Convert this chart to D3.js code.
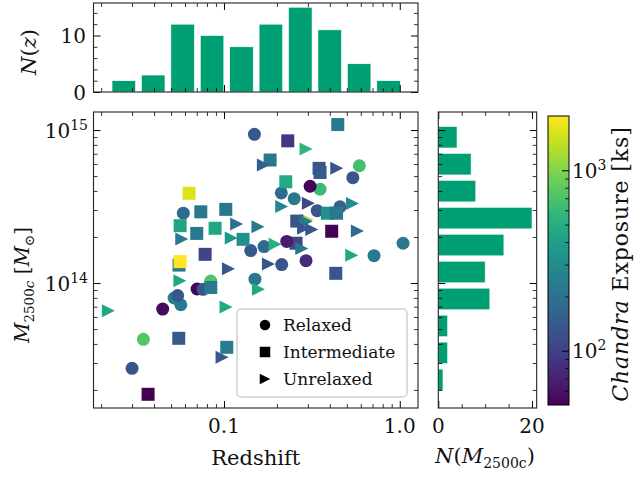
<!DOCTYPE html>
<html>
<head>
<meta charset="utf-8">
<script src="https://cdn.jsdelivr.net/npm/d3@7/dist/d3.min.js"></script>
<style>
  html, body { margin: 0; padding: 0; background: #fff; }
  svg { display: block; }
  text { font-family: "DejaVu Serif", "Liberation Serif", serif; fill: #111; }
</style>
</head>
<body>
<svg id="fig" width="638" height="477"></svg>
<script>
// Cluster sample, listed in drawing order.
// Redshift
const clusterZ = [
  0.297, 0.302, 0.183, 0.2594, 0.257,
  0.149, 0.589, 0.541, 0.352, 0.309, 0.212, 0.251, 0.0587, 0.339, 0.457,
  0.142, 0.169, 0.2275, 1.044, 0.293, 0.714, 0.213, 0.150, 0.0841, 0.0703,
  0.0760, 0.0520, 0.0568, 0.0545, 0.0448, 0.0348, 0.0300,
  0.293, 0.1675, 0.438, 0.213, 0.538, 0.118, 0.156, 0.293, 0.2836, 0.3158,
  0.574, 0.0575, 0.110, 0.1953, 0.277, 0.533, 0.106, 0.179, 0.157, 0.0561,
  0.1028, 0.0220, 0.0975,
  0.444, 0.2306, 0.3475, 0.352, 0.2247, 0.0633, 0.0738, 0.1024, 0.0563, 0.089,
  0.070, 0.1284, 0.3874, 0.437, 0.410, 0.0781, 0.0555, 0.0563, 0.0841, 0.4325,
  0.0553, 0.1037, 0.0370
];
// M2500c in solar masses
const clusterMass = [
  2.58e14, 3.32e14, 6.37e14, 2.54e14, 1.82e14,
  9.37e14, 5.84e14, 4.88e14, 4.10e14, 4.29e14, 3.88e14, 3.56e14, 2.86e14, 2.97e14, 3.15e14,
  1.63e14, 1.73e14, 1.87e14, 1.82e14, 1.40e14, 1.51e14, 1.32e14, 1.06e14, 1.03e14, 0.914e14,
  0.910e14, 0.798e14, 0.721e14, 0.829e14, 0.676e14, 0.4285e14, 0.277e14,
  7.51e14, 5.90e14, 5.62e14, 3.16e14, 3.31e14, 2.43e14, 2.33e14, 2.525e14, 2.28e14, 2.24e14,
  2.19e14, 1.94e14, 1.97e14, 1.79e14, 1.68e14, 1.52e14, 1.24e14, 1.33e14, 0.910e14, 1.035e14,
  0.697e14, 0.659e14, 0.327e14,
  10.86e14, 8.50e14, 5.62e14, 5.28e14, 4.59e14, 3.86e14, 2.92e14, 3.03e14, 2.37e14, 2.28e14,
  2.11e14, 1.93e14, 2.86e14, 2.86e14, 2.18e14, 1.54e14, 1.31e14, 1.38e14, 0.935e14, 1.157e14,
  0.435e14, 0.380e14, 0.1873e14
];
// Chandra exposure time in ks
const clusterExposure = [
  1200, 105, 220, 135, 110,
  135, 660, 135, 620, 52, 180, 220, 180, 135, 160,
  140, 180, 65, 220, 78, 220, 135, 220, 735, 52,
  135, 260, 220, 135, 55, 735, 135,
  550, 150, 135, 280, 300, 190, 220, 220, 135, 135,
  180, 220, 360, 520, 220, 450, 135, 135, 450, 450,
  460, 450, 140,
  220, 90, 135, 140, 460, 1650, 220, 220, 440, 440,
  220, 316, 316, 220, 50, 105, 220, 2000, 220, 135,
  140, 230, 50
];
// Dynamical state: R relaxed, I intermediate, U unrelaxed
const clusterState = [
  "U", "U", "I", "I", "I",
  "R", "R", "R", "R", "R", "R", "R", "R", "R", "R",
  "R", "R", "R", "R", "R", "R", "R", "R", "R", "R",
  "R", "R", "R", "R", "R", "R", "R",
  "U", "U", "U", "U", "U", "U", "U", "U", "U", "U",
  "U", "U", "U", "U", "U", "U", "U", "U", "U", "U",
  "U", "U", "U",
  "I", "I", "I", "I", "I", "I", "I", "I", "I", "I",
  "I", "I", "I", "I", "I", "I", "I", "I", "I", "I",
  "I", "I", "I"
];

// Marginal histograms (10 log-spaced bins each)
const redshiftCounts = [2, 3, 12, 10, 8, 12, 15, 11, 5, 2];
const redshiftBinRange = [0.0222, 1.047];
const massCounts = [1, 2, 2, 11, 10, 14, 20, 8, 7, 4];   // low mass -> high mass
const massBinRange = [1.9e13, 1.1e15];

// Legend and tick values
const stateCodes = ["R", "I", "U"];
const stateNames = ["Relaxed", "Intermediate", "Unrelaxed"];
const redshiftTicks = [0.1, 1.0];
const massTicks = [1e14, 1e15];
const exposureTicks = [100, 1000];
const zCountTicks = [0, 10];
const massCountTicks = [0, 20];

// ---------------------------------------------------------------- layout
const svg = d3.select("#fig");
const frame = { l: 93.5, r: 418, t: 112, b: 408 };
const topPanel = { t: 3, b: 92 };
const sidePanel = { l: 438.3, r: 536.7 };
const cbarBox = { l: 548, r: 569, t: 116, b: 405 };
const histColor = "#009e73";
const markerSize = 13;

const x = d3.scaleLog().domain([0.0181, 1.27]).range([frame.l, frame.r]);
const y = d3.scaleLog().domain([1.524e13, 1.312e15]).range([frame.b, frame.t]);
const yTop = d3.scaleLinear().domain([0, 15.75]).range([topPanel.b, topPanel.t]);
const xSide = d3.scaleLinear().domain([0, 21]).range([sidePanel.l, sidePanel.r]);
const cScale = d3.scaleLog().domain([50, 2000]).range([cbarBox.b, cbarBox.t]);
const color = d3.scaleSequentialLog(d3.interpolateViridis).domain([50, 2000]);

function logMinor(domain) {
  const lo = Math.min(...domain), hi = Math.max(...domain);
  const out = [];
  for (let d = Math.floor(Math.log10(lo)); d <= Math.ceil(Math.log10(hi)); d++) {
    for (let k = 2; k <= 9; k++) {
      const v = k * Math.pow(10, d);
      if (v > lo && v < hi) out.push(v);
    }
  }
  return out;
}

// inward-pointing ticks on one side of a panel
function inwardTicks(scale, orient, offset, values, len, width) {
  const gen = { bottom: d3.axisBottom, top: d3.axisTop, left: d3.axisLeft, right: d3.axisRight }[orient](scale)
    .tickValues(values).tickSizeInner(-len).tickSizeOuter(0).tickFormat("");
  const tr = (orient === "bottom" || orient === "top") ? `translate(0,${offset})` : `translate(${offset},0)`;
  const g = svg.append("g").attr("transform", tr).call(gen);
  g.select(".domain").remove();
  g.selectAll(".tick text").remove();
  g.selectAll(".tick line").attr("stroke", "#000").attr("stroke-width", width);
}

function panelTicks(xs, ys, box, xMajor, xMinor, yMajor, yMinor) {
  inwardTicks(xs, "bottom", box.b, xMajor, 7, 1);
  inwardTicks(xs, "bottom", box.b, xMinor, 4, 0.8);
  inwardTicks(xs, "top", box.t, xMajor, 7, 1);
  inwardTicks(xs, "top", box.t, xMinor, 4, 0.8);
  inwardTicks(ys, "left", box.l, yMajor, 7, 1);
  inwardTicks(ys, "left", box.l, yMinor, 4, 0.8);
  inwardTicks(ys, "right", box.r, yMajor, 7, 1);
  inwardTicks(ys, "right", box.r, yMinor, 4, 0.8);
}

function logEdges(range, n) {
  const a = Math.log10(range[0]), b = Math.log10(range[1]);
  return d3.range(n + 1).map(i => Math.pow(10, a + i * (b - a) / n));
}

// ---------------------------------------------------------------- top histogram N(z)
const zEdges = logEdges(redshiftBinRange, redshiftCounts.length);
svg.append("g").selectAll("rect").data(redshiftCounts).join("rect")
  .attr("x", (c, i) => { const a = x(zEdges[i]), b = x(zEdges[i + 1]); return a + 0.1 * (b - a); })
  .attr("width", (c, i) => 0.8 * (x(zEdges[i + 1]) - x(zEdges[i])))
  .attr("y", c => yTop(c))
  .attr("height", c => yTop(0) - yTop(c))
  .attr("fill", histColor).attr("stroke", "#fff").attr("stroke-width", 0.6);

// ---------------------------------------------------------------- side histogram N(M)
const mEdges = logEdges(massBinRange, massCounts.length);
svg.append("g").selectAll("rect").data(massCounts).join("rect")
  .attr("x", xSide(0))
  .attr("width", c => xSide(c) - xSide(0))
  .attr("y", (c, i) => { const a = y(mEdges[i + 1]), b = y(mEdges[i]); return a + 0.1 * (b - a); })
  .attr("height", (c, i) => 0.8 * (y(mEdges[i]) - y(mEdges[i + 1])))
  .attr("fill", histColor).attr("stroke", "#fff").attr("stroke-width", 0.6);

// ---------------------------------------------------------------- scatter
function trianglePath(cx, cy, s) {
  const h = s / 2;
  return `M${cx + h},${cy}L${cx - h},${cy - h}L${cx - h},${cy + h}Z`;
}
function drawMarker(g, state, cx, cy, s, fill) {
  if (state === "R") {
    g.append("circle").attr("cx", cx).attr("cy", cy).attr("r", s / 2).attr("fill", fill);
  } else if (state === "I") {
    g.append("rect").attr("x", cx - s / 2).attr("y", cy - s / 2)
      .attr("width", s).attr("height", s).attr("fill", fill);
  } else {
    g.append("path").attr("d", trianglePath(cx, cy, s)).attr("fill", fill);
  }
}
const pts = svg.append("g");
clusterZ.forEach((z, i) => {
  drawMarker(pts, clusterState[i], x(z), y(clusterMass[i]), markerSize, color(clusterExposure[i]));
});

// ---------------------------------------------------------------- legend
const leg = svg.append("g");
leg.append("rect").attr("x", 237).attr("y", 309).attr("width", 170).attr("height", 88)
  .attr("rx", 4).attr("fill", "#fff").attr("fill-opacity", 0.85)
  .attr("stroke", "#d0d0d0").attr("stroke-width", 1.5);
stateCodes.forEach((code, i) => {
  const cy = 325 + i * 27;
  drawMarker(leg, code, 265, cy, 10.5, "#000");
  leg.append("text").attr("x", 283).attr("y", cy + 6).attr("font-size", 17).text(stateNames[i]);
});

// ---------------------------------------------------------------- colorbar
const defs = svg.append("defs");
const grad = defs.append("linearGradient").attr("id", "viridisBar")
  .attr("x1", 0).attr("y1", 1).attr("x2", 0).attr("y2", 0);
d3.range(0, 1.0001, 0.02).forEach(t => {
  grad.append("stop").attr("offset", t).attr("stop-color", d3.interpolateViridis(t));
});
svg.append("rect").attr("x", cbarBox.l).attr("y", cbarBox.t)
  .attr("width", cbarBox.r - cbarBox.l).attr("height", cbarBox.b - cbarBox.t)
  .attr("fill", "url(#viridisBar)");
inwardTicks(cScale, "right", cbarBox.r, exposureTicks, 7, 1);
inwardTicks(cScale, "right", cbarBox.r, logMinor(cScale.domain()).filter(v => v < 1990), 4, 0.8);
svg.append("rect").attr("x", cbarBox.l).attr("y", cbarBox.t)
  .attr("width", cbarBox.r - cbarBox.l).attr("height", cbarBox.b - cbarBox.t)
  .attr("fill", "none").attr("stroke", "#000").attr("stroke-width", 1);

// ---------------------------------------------------------------- ticks and frames
panelTicks(x, y, frame, redshiftTicks, logMinor(x.domain()), massTicks, logMinor(y.domain()));
panelTicks(x, yTop, { l: frame.l, r: frame.r, t: topPanel.t, b: topPanel.b },
  redshiftTicks, logMinor(x.domain()), zCountTicks, [2, 4, 6, 8, 12, 14]);
panelTicks(xSide, y, { l: sidePanel.l, r: sidePanel.r, t: frame.t, b: frame.b },
  massCountTicks, [5, 10, 15], massTicks, logMinor(y.domain()));

[[frame.l, frame.t, frame.r, frame.b],
 [frame.l, topPanel.t, frame.r, topPanel.b],
 [sidePanel.l, frame.t, sidePanel.r, frame.b]].forEach(([l, t, r, b]) => {
  svg.append("rect").attr("x", l).attr("y", t).attr("width", r - l).attr("height", b - t)
    .attr("fill", "none").attr("stroke", "#222").attr("stroke-width", 1.1);
});

// ---------------------------------------------------------------- tick labels
const fs = 20;
redshiftTicks.forEach(v => {
  svg.append("text").attr("x", x(v)).attr("y", 433).attr("text-anchor", "middle")
    .attr("font-size", fs).text(d3.format(".1f")(v));
});
massCountTicks.forEach(v => {
  svg.append("text").attr("x", xSide(v)).attr("y", 433).attr("text-anchor", "middle")
    .attr("font-size", fs).text(v);
});
zCountTicks.forEach(v => {
  svg.append("text").attr("x", 86).attr("y", yTop(v) + 7.5).attr("text-anchor", "end")
    .attr("font-size", fs).text(v);
});
function powerLabel(xp, yp, anchor, v) {
  const t = svg.append("text").attr("x", xp).attr("y", yp).attr("text-anchor", anchor).attr("font-size", fs);
  t.append("tspan").text("10");
  t.append("tspan").attr("font-size", 14).attr("dy", -8).text(Math.round(Math.log10(v)));
}
massTicks.forEach(v => powerLabel(88, y(v) + 7.5, "end", v));
exposureTicks.forEach(v => powerLabel(572, cScale(v) + 7.5, "start", v));

// ---------------------------------------------------------------- axis titles
svg.append("text").attr("x", (frame.l + frame.r) / 2).attr("y", 465)
  .attr("text-anchor", "middle").attr("font-size", 21).text("Redshift");

const nm = svg.append("text").attr("x", 485).attr("y", 463).attr("text-anchor", "middle").attr("font-size", 21);
nm.append("tspan").attr("font-style", "italic").text("N");
nm.append("tspan").text("(");
nm.append("tspan").attr("font-style", "italic").text("M");
nm.append("tspan").attr("font-size", 14).attr("dy", 5).text("2500c");
nm.append("tspan").attr("dy", -5).text(")");

const nz = svg.append("text").attr("transform", "translate(36,52) rotate(-90)")
  .attr("text-anchor", "middle").attr("font-size", 21);
nz.append("tspan").attr("font-style", "italic").text("N");
nz.append("tspan").text("(");
nz.append("tspan").attr("font-style", "italic").text("z");
nz.append("tspan").text(")");

const ml = svg.append("text").attr("transform", "translate(29,285) rotate(-90)")
  .attr("text-anchor", "middle").attr("font-size", 20);
ml.append("tspan").attr("font-style", "italic").text("M");
ml.append("tspan").attr("font-size", 13.5).attr("dy", 5).text("2500");
ml.append("tspan").attr("font-size", 13.5).attr("font-style", "italic").text("c");
ml.append("tspan").attr("dy", -5).text(" [");
ml.append("tspan").attr("font-style", "italic").text("M");
ml.append("tspan").attr("font-size", 13.5).attr("dy", 5).text("\u2299");
ml.append("tspan").attr("dy", -5).text("]");

const cl = svg.append("text").attr("transform", "translate(628,264) rotate(-90)")
  .attr("text-anchor", "middle").attr("font-size", 22).attr("letter-spacing", 0.9);
cl.append("tspan").attr("font-style", "italic").text("Chandra");
cl.append("tspan").text(" Exposure [ks]");
</script>
</body>
</html>
